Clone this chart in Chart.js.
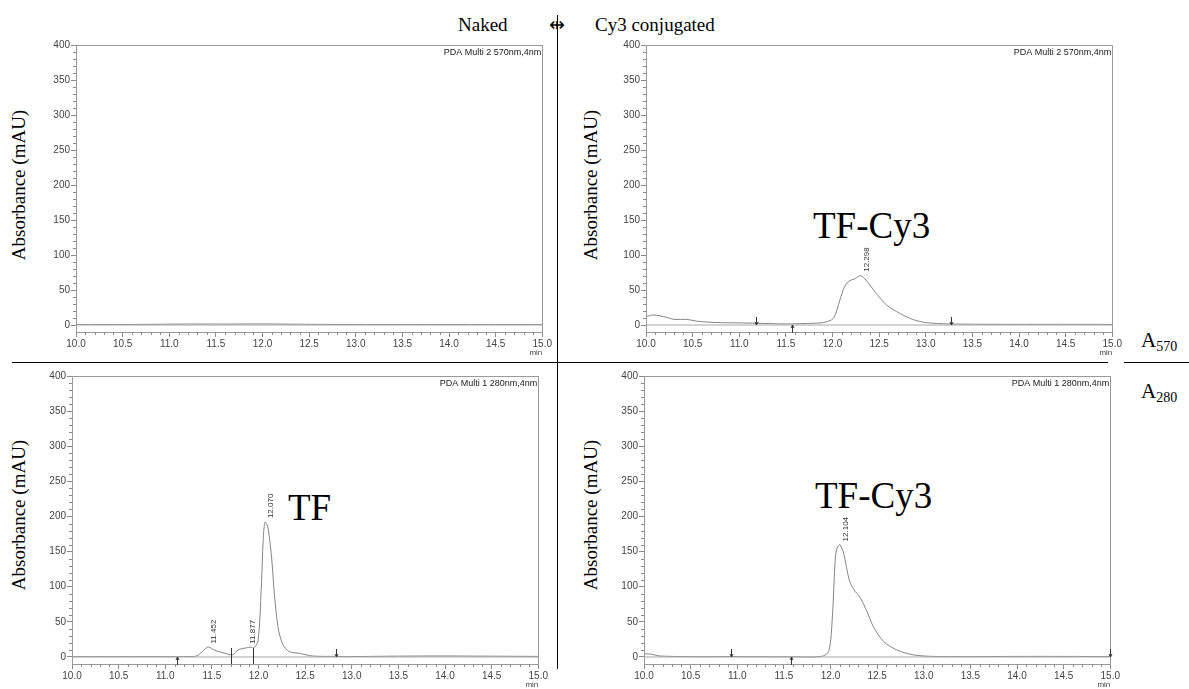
<!DOCTYPE html>
<html>
<head>
<meta charset="utf-8">
<script src="https://cdn.jsdelivr.net/npm/chart.js@4.4.1/dist/chart.umd.min.js"></script>
<style>
  body { margin: 0; background: #fff; width: 1189px; height: 689px; position: relative; overflow: hidden; }
  canvas { position: absolute; }
  .lbl { position: absolute; white-space: nowrap; line-height: 1; font-family: "Liberation Serif", "Times New Roman", serif; color: #000; }
  .ytitle { position: absolute; white-space: nowrap; line-height: 1; font-family: "Liberation Serif", serif; font-size: 19px;
            transform: translate(-50%, -50%) rotate(-90deg); }
  .rule { position: absolute; background: #000; }
  sub { font-size: 14px; vertical-align: -4px; }
</style>
</head>
<body>

<div class="lbl" style="left:458px; top:15px; font-size:19px;">Naked</div>
<div class="lbl" style="left:549px; top:15px; font-size:19px;">&#8697;</div>
<div class="lbl" style="left:595px; top:15px; font-size:19px;">Cy3 conjugated</div>

<div class="rule" style="left:557px; top:15px; width:1px; height:654px;"></div>
<div class="rule" style="left:12px; top:362px; width:1096px; height:1px;"></div>
<div class="rule" style="left:1124px; top:362px; width:65px; height:1px;"></div>

<div class="lbl" style="left:1141px; top:330px; font-size:21px;">A<sub>570</sub></div>
<div class="lbl" style="left:1141px; top:381px; font-size:21px;">A<sub>280</sub></div>

<div class="ytitle" style="left:18px; top:185px;">Absorbance (mAU)</div>
<div class="ytitle" style="left:590px; top:185px;">Absorbance (mAU)</div>
<div class="ytitle" style="left:18px; top:515px;">Absorbance (mAU)</div>
<div class="ytitle" style="left:590px; top:515px;">Absorbance (mAU)</div>

<div class="lbl" style="left:813px; top:207px; font-size:37px;">TF-Cy3</div>
<div class="lbl" style="left:288px; top:489px; font-size:37px;">TF</div>
<div class="lbl" style="left:815px; top:477px; font-size:37px;">TF-Cy3</div>

<canvas id="c570naked" width="517" height="332" style="left:36px; top:35px;"></canvas>
<canvas id="c570cy3" width="517" height="332" style="left:606px; top:35px;"></canvas>
<canvas id="c280naked" width="517" height="322" style="left:32px; top:366px;"></canvas>
<canvas id="c280cy3" width="517" height="322" style="left:604px; top:366px;"></canvas>

<script>
// axis ticks (min)
const xTicks = [10.0, 10.5, 11.0, 11.5, 12.0, 12.5, 13.0, 13.5, 14.0, 14.5, 15.0];
// axis ticks (mAU)
const yTicks = [0, 50, 100, 150, 200, 250, 300, 350, 400];

// 570 nm, naked TF
const timeNaked570 = [10.0, 10.6, 11.0, 11.3, 11.6, 12.0, 12.3, 12.6, 13.0, 14.0, 15.0];
const absNaked570 = [0.8, 0.8, 1.2, 1.4, 1.3, 1.5, 1.2, 0.9, 0.8, 0.8, 0.8];

// 570 nm, Cy3 conjugated TF
const timeCy3570 = [10.0, 10.08, 10.22, 10.3, 10.44, 10.54, 10.76, 11.0, 11.19, 11.51, 11.79, 11.9, 12.01, 12.08, 12.13,
  12.18, 12.24, 12.3, 12.36, 12.47, 12.58, 12.72, 12.86, 13.0, 13.25, 13.8, 14.5, 15.0];
const absCy3570 = [12, 14.3, 11, 8, 8, 5.5, 3.5, 3, 2.5, 1.5, 2.5, 3.5, 9.5, 36, 55,
  63, 66, 70.5, 64, 45, 28.5, 16.7, 8, 3.5, 1.5, 1, 1, 0.8];

// 280 nm, naked TF
const timeNaked280 = [10.0, 10.5, 11.0, 11.2, 11.335, 11.4, 11.46, 11.53, 11.62, 11.72, 11.76, 11.8, 11.87, 11.92, 11.95,
  11.995, 12.03, 12.05, 12.07, 12.1, 12.14, 12.17, 12.21, 12.26, 12.33, 12.44, 12.58, 12.83, 13.0, 13.5, 14.0, 15.0];
const absNaked280 = [0.5, 0.5, 0.5, 0.6, 1.4, 8, 14.3, 9.5, 6, 3, 8, 11, 13, 14, 13,
  23, 99, 166, 192, 185, 142, 90, 42, 18, 7.6, 5.2, 1.4, 0.8, 0.6, 1.2, 1.4, 0.8];

// 280 nm, Cy3 conjugated TF
const timeCy3280 = [10.0, 10.08, 10.16, 10.5, 10.93, 11.3, 11.58, 11.9, 11.98, 12.02, 12.05, 12.07, 12.1, 12.14, 12.2,
  12.25, 12.32, 12.39, 12.46, 12.57, 12.71, 12.89, 13.1, 13.5, 14.0, 14.5, 15.0];
const absCy3280 = [4.5, 4, 1.5, 0.5, 0.5, 0.3, 0.3, 0.8, 7.6, 57, 138, 155, 160, 148, 110,
  96, 84, 65, 43, 22, 10, 3, 0.8, 0.5, 0.8, 0.8, 0.5];

// retention times printed over peaks
const peaksCy3570 = [12.298];
const peaksNaked280 = [11.452, 11.877, 12.070];
const peaksCy3280 = [12.104];

// integration marks: time + arrow direction
const marksCy3570 = [[11.18, 'down'], [11.57, 'up'], [13.27, 'down']];
const marksNaked280 = [[11.13, 'up'], [11.71, 'both'], [11.94, 'both'], [12.83, 'down']];
const marksCy3280 = [[10.93, 'down'], [11.58, 'up'], [15.0, 'down']];

function valueAt(times, vals, t) {
    for (let i = 1; i < times.length; i++) {
        if (t <= times[i]) {
            const f = (t - times[i - 1]) / (times[i] - times[i - 1]);
            return vals[i - 1] + f * (vals[i] - vals[i - 1]);
        }
    }
    return vals[vals.length - 1];
}

const decorPlugin = {
    id: 'decor',
    afterDraw(chart, args, opts) {
        const { ctx, chartArea: a, scales: { x, y } } = chart;
        ctx.save();

        // frame
        ctx.strokeStyle = '#9a9a9a';
        ctx.lineWidth = 1;
        ctx.strokeRect(Math.round(a.left) + 0.5, Math.round(a.top) + 0.5,
            Math.round(a.right - a.left), Math.round(a.bottom - a.top));

        // minor ticks
        ctx.strokeStyle = '#8a8a8a';
        ctx.beginPath();
        for (let v = 0; v <= 400; v += 10) {
            if (v % 50 === 0) continue;
            const py = Math.round(y.getPixelForValue(v)) + 0.5;
            ctx.moveTo(a.left - 3, py);
            ctx.lineTo(a.left, py);
        }
        for (let i = 1; i < 50; i++) {
            if (i % 5 === 0) continue;
            const px = Math.round(x.getPixelForValue(10 + i / 10)) + 0.5;
            ctx.moveTo(px, a.bottom);
            ctx.lineTo(px, a.bottom + 3);
        }
        ctx.stroke();

        // integration marks
        const y0 = Math.round(y.getPixelForValue(0));
        ctx.strokeStyle = '#333';
        ctx.fillStyle = '#333';
        (opts.marks || []).forEach(([t, dir]) => {
            const px = Math.round(x.getPixelForValue(t)) + 0.5;
            ctx.beginPath();
            if (dir === 'down') {
                ctx.moveTo(px, y0 - 8); ctx.lineTo(px, y0);
                ctx.moveTo(px - 1.5, y0 - 3); ctx.lineTo(px, y0); ctx.lineTo(px + 1.5, y0 - 3);
            } else if (dir === 'up') {
                ctx.moveTo(px, y0 + 8); ctx.lineTo(px, y0);
                ctx.moveTo(px - 1.5, y0 + 3); ctx.lineTo(px, y0); ctx.lineTo(px + 1.5, y0 + 3);
            } else {
                ctx.moveTo(px, y0 - 9); ctx.lineTo(px, y0 + 7);
            }
            ctx.stroke();
        });

        // peak retention times
        ctx.font = '8px "Liberation Sans", Arial, sans-serif';
        ctx.fillStyle = '#333';
        ctx.textAlign = 'left';
        ctx.textBaseline = 'middle';
        (opts.peaks || []).forEach(t => {
            const px = x.getPixelForValue(t);
            const py = y.getPixelForValue(valueAt(opts.times, opts.vals, t));
            ctx.save();
            ctx.translate(px + 6, py - 4);
            ctx.rotate(-Math.PI / 2);
            ctx.fillText(t.toFixed(3), 0, 0);
            ctx.restore();
        });

        // detector text and unit
        ctx.font = '9px "Liberation Sans", Arial, sans-serif';
        ctx.fillStyle = '#222';
        ctx.textAlign = 'right';
        ctx.textBaseline = 'top';
        ctx.fillText(opts.detector, a.right - 1, a.top + 3);
        ctx.font = '8px "Liberation Sans", Arial, sans-serif';
        ctx.fillStyle = '#444';
        ctx.fillText('min', a.right, a.bottom + 17);

        ctx.restore();
    }
};

function makePanel(id, times, vals, cfg) {
    const ctx = document.getElementById(id)?.getContext('2d');
    if (!ctx) return null;
    const tickFont = { family: '"Liberation Sans", Arial, sans-serif', size: 10 };
    return new Chart(ctx, {
        type: 'line',
        data: {
            datasets: [
                {
                    data: [{ x: xTicks[0], y: 0 }, { x: xTicks[xTicks.length - 1], y: 0 }],
                    borderColor: '#a8a8a8', borderWidth: 1, pointRadius: 0
                },
                {
                    data: times.map((t, i) => ({ x: t, y: vals[i] })),
                    borderColor: '#858585', borderWidth: 1, pointRadius: 0, tension: 0.3
                }
            ]
        },
        options: {
            responsive: false,
            animation: false,
            layout: { padding: { top: 10, right: 10, left: 0, bottom: 0 } },
            plugins: {
                legend: { display: false },
                tooltip: { enabled: false },
                decor: { detector: cfg.detector, peaks: cfg.peaks, marks: cfg.marks, times, vals }
            },
            scales: {
                x: {
                    type: 'linear', min: 10, max: 15,
                    afterBuildTicks: s => { s.ticks = xTicks.map(v => ({ value: v })); },
                    afterFit: s => { s.height = cfg.xh; },
                    ticks: { callback: v => v.toFixed(1), font: tickFont, color: '#444', padding: 1, maxRotation: 0 },
                    grid: { drawOnChartArea: false, tickLength: 5, color: '#8a8a8a' },
                    border: { color: '#9a9a9a' }
                },
                y: {
                    type: 'linear', min: -10, max: 400,
                    afterBuildTicks: s => { s.ticks = yTicks.map(v => ({ value: v })); },
                    afterFit: s => { s.width = 40; },
                    ticks: { font: tickFont, color: '#444', padding: 1 },
                    grid: { drawOnChartArea: false, tickLength: 5, color: '#8a8a8a' },
                    border: { color: '#9a9a9a' }
                }
            }
        },
        plugins: [decorPlugin]
    });
}

if (typeof Chart !== 'undefined') {
    makePanel('c570naked', timeNaked570, absNaked570, { detector: 'PDA Multi 2 570nm,4nm', peaks: [], marks: [], xh: 35 });
    makePanel('c570cy3', timeCy3570, absCy3570, { detector: 'PDA Multi 2 570nm,4nm', peaks: peaksCy3570, marks: marksCy3570, xh: 35 });
    makePanel('c280naked', timeNaked280, absNaked280, { detector: 'PDA Multi 1 280nm,4nm', peaks: peaksNaked280, marks: marksNaked280, xh: 24 });
    makePanel('c280cy3', timeCy3280, absCy3280, { detector: 'PDA Multi 1 280nm,4nm', peaks: peaksCy3280, marks: marksCy3280, xh: 24 });
} else {
    console.warn('Chart.js not loaded');
}
</script>
</body>
</html>
